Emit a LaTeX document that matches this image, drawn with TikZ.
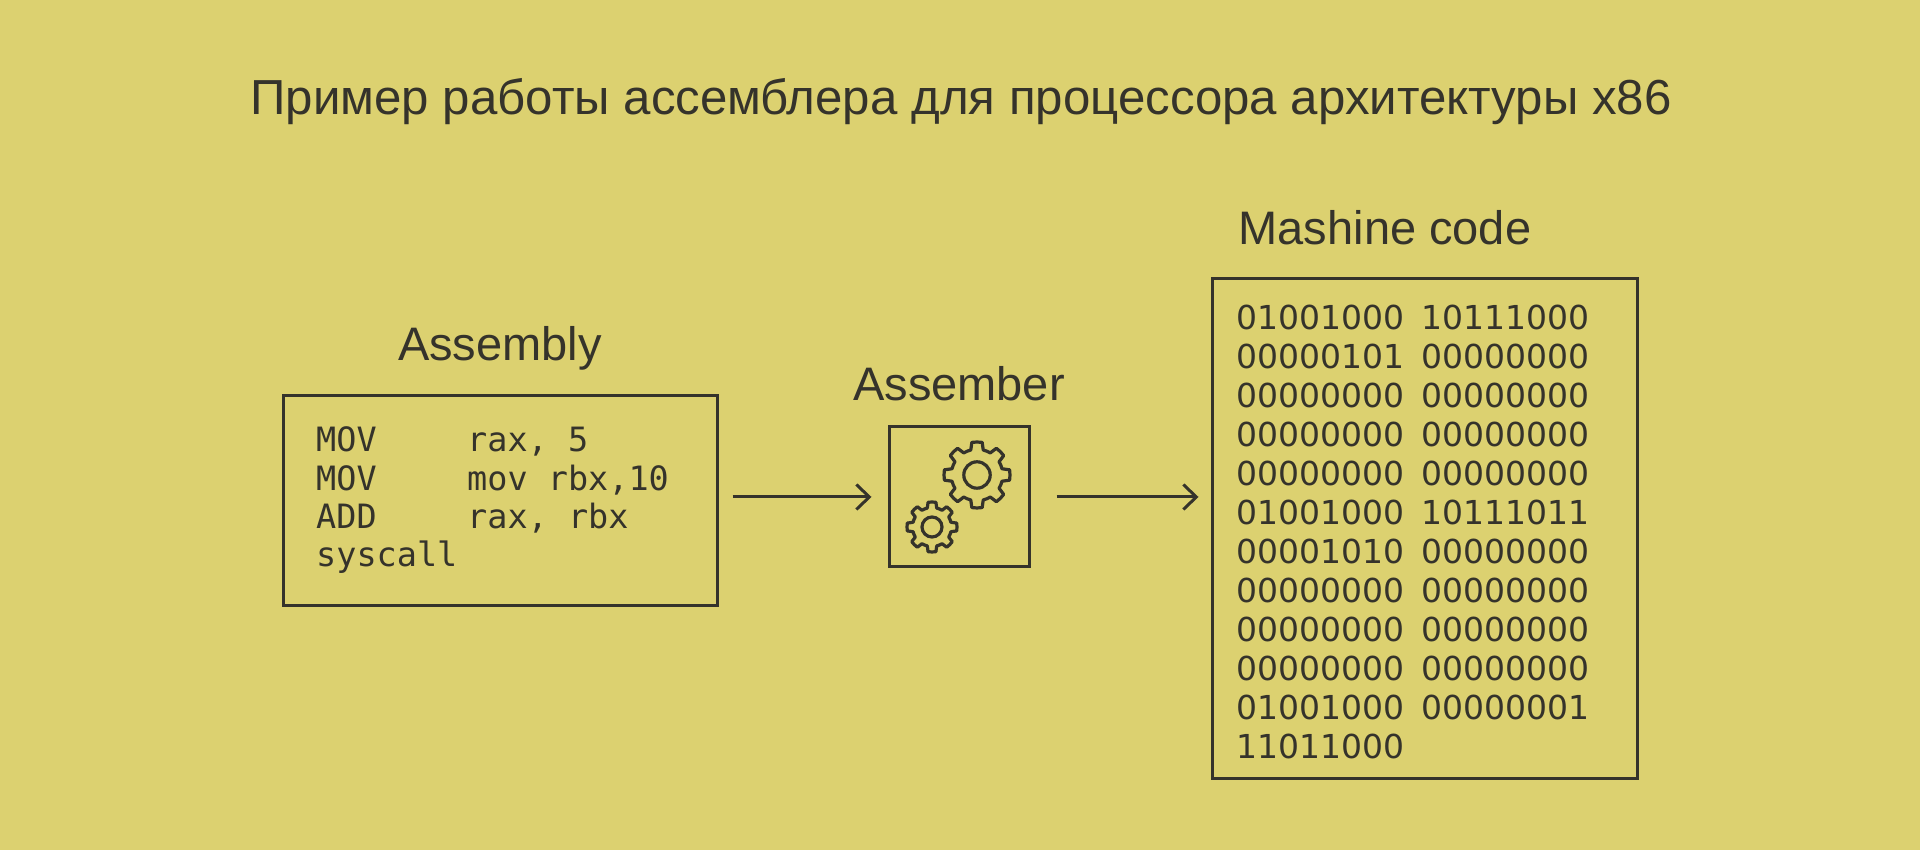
\documentclass[tikz,border=0pt]{standalone}
\usepackage{fontspec}
\setmainfont{Liberation Sans}
\setmonofont{DejaVu Sans Mono}
\newfontfamily\bitfont{DejaVu Sans}
\usepackage{tikz}
\usetikzlibrary{positioning, arrows.meta, calc}
\definecolor{bgyellow}{HTML}{DCD170}
\definecolor{ink}{HTML}{35332B}

\begin{document}
\begin{tikzpicture}[x=1pt, y=1pt,
	every node/.style={text=ink, inner sep=0pt},
	box/.style={draw=ink, line width=3pt},
	lbl/.style={font=\fontsize{47}{56}\selectfont},
	asmtext/.style={font=\ttfamily\fontsize{33.5}{40}\selectfont, anchor=base west},
	bits/.style={font=\bitfont\fontsize{33}{40}\selectfont, anchor=base west},
	arr/.style={draw=ink, line width=3pt, -{Straight Barb[length=13pt, width=25pt]}},
	cogline/.style={draw=ink, line width=3.2pt, line join=round}]
	
	\fill[bgyellow] (0,0) rectangle (1920,850);
	
	\node[lbl, anchor=base, font=\fontsize{49.2}{58}\selectfont] (title) at (961,735) {Пример работы ассемблера для процессора архитектуры x86};
	
	% boxes
	\node[box, minimum width=434pt, minimum height=210pt] (asm) at (500,349) {};
	\node[box, minimum width=140pt, minimum height=140pt] (gear) at (959,353) {};
	\node[box, minimum width=425pt, minimum height=500pt] (mach) at (1424.5,321) {};
	
	\node[lbl, above=34pt of asm.north, anchor=base] (asmlbl) {Assembly};
	\node[lbl, above=25pt of gear.north, anchor=base] (gearlbl) {Assember};
	\node[lbl, above right=33pt and 28pt of mach.north west, anchor=base west] (machlbl) {Mashine code};
	
	% assembly listing
	\foreach \op [count=\i] in {MOV, MOV, ADD, syscall}
	\node[asmtext] (op\i) at (316, 436.3-38.3*\i) {\op};
	\foreach \arg [count=\i] in {{rax, 5}, {mov rbx,10}, {rax, rbx}}
	\node[asmtext] (arg\i) at (467, 436.3-38.3*\i) {\arg};
	
	% gears
	\foreach \cx/\cy/\r in {977/375/33, 932/323/25}
	\draw[cogline, shift={(\cx,\cy)}, scale=\r] (76:0.78)
		\foreach \a in {90,135,...,405} { -- (\a-9:1) arc[start angle=\a-9, end angle=\a+9, radius=1]
		-- (\a+14:0.78) arc[start angle=\a+14, end angle=\a+31, radius=0.78] } -- cycle
		(0,0) circle (0.4);
	
	% machine code
	\foreach \hi/\lo [count=\i] in {01001000/10111000, 00000101/00000000, 00000000/00000000,
		00000000/00000000, 00000000/00000000, 01001000/10111011, 00001010/00000000,
		00000000/00000000, 00000000/00000000, 00000000/00000000, 01001000/00000001}
	{
		\node[bits] (hi\i) at (1236, 559-39*\i) {\hi};
		\node[bits] (lo\i) at (1421, 559-39*\i) {\lo};
	}
	\node[bits] (hi12) at (1236, 559-39*12) {11011000};
	
	\draw[arr, shorten <=14pt, shorten >=16pt] (asm.east |- gear.west) -- (gear.west);
	\draw[arr, shorten <=26pt, shorten >=12pt] (gear.east) -- (gear.east -| mach.west);
\end{tikzpicture}
\end{document}
